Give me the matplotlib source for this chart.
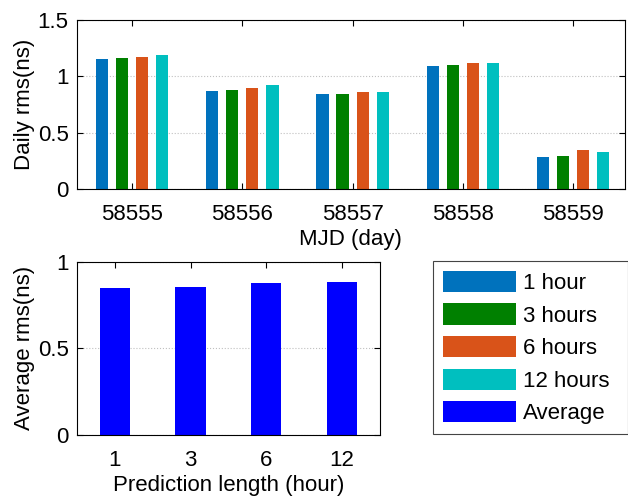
import matplotlib.pyplot as plt
from matplotlib.patches import Patch
import numpy as np

plt.rcParams['font.family'] = ['Liberation Sans', 'DejaVu Sans']

## donnees

days = ['58555', '58556', '58557', '58558', '58559']
rms_1h = [1.157, 0.873, 0.841, 1.095, 0.286]
rms_3h = [1.159, 0.876, 0.843, 1.097, 0.295]
rms_6h = [1.168, 0.897, 0.858, 1.115, 0.345]
rms_12h = [1.186, 0.918, 0.858, 1.118, 0.330]

lengths = ['1', '3', '6', '12']
avg_rms = [0.850, 0.854, 0.875, 0.881]

labels = ['1 hour', '3 hours', '6 hours', '12 hours', 'Average']
colors = ['#0072BD', '#008000', '#D95319', '#00BFBF', '#0000FF']

fs = 16

def style(ax):
	ax.tick_params(direction='in', top=True, right=True, labelsize=fs, length=4)
	ax.tick_params(axis='x', pad=11)
	ax.tick_params(axis='y', pad=6)
	ax.grid(axis='y', linestyle=':', color='#c0c0c0', linewidth=0.8)
	ax.set_axisbelow(True)
	for s in ax.spines.values():
		s.set_linewidth(0.8)

fig = plt.figure(figsize=(6.28, 4.96), dpi=100)

## graphe du haut

ax1 = fig.add_axes([0.1226, 0.619, 0.8724, 0.341])
x = np.arange(1, len(days) + 1)
series = [rms_1h, rms_3h, rms_6h, rms_12h]
offs = [-0.273, -0.091, 0.091, 0.273]
for k in range(4):
	ax1.bar(x + offs[k], series[k], width=0.11, color=colors[k])
ax1.set_xlim(0.5, 5.47)
ax1.set_ylim(0, 1.5)
ax1.set_xticks(x)
ax1.set_xticklabels(days)
ax1.set_yticks([0, 0.5, 1, 1.5])
ax1.set_yticklabels(['0', '0.5', '1', '1.5'])
ax1.set_xlabel('MJD (day)', fontsize=fs, labelpad=3)
ax1.set_ylabel('Daily rms(ns)', fontsize=fs, labelpad=2)
style(ax1)

## graphe du bas

ax2 = fig.add_axes([0.1226, 0.123, 0.4824, 0.3494])
x2 = np.arange(1, len(lengths) + 1)
ax2.bar(x2, avg_rms, width=0.4, color=colors[4])
ax2.set_xlim(0.5, 4.5)
ax2.set_ylim(0, 1)
ax2.set_xticks(x2)
ax2.set_xticklabels(lengths)
ax2.set_yticks([0, 0.5, 1])
ax2.set_yticklabels(['0', '0.5', '1'])
ax2.set_xlabel('Prediction length (hour)', fontsize=fs, labelpad=3)
ax2.set_ylabel('Average rms(ns)', fontsize=fs, labelpad=2)
style(ax2)

## legende

handles = [Patch(facecolor=c, edgecolor='none') for c in colors]
leg = fig.legend(handles, labels, loc='upper left', bbox_to_anchor=(0.689, 0.474),
	fontsize=fs, handlelength=3.3, handleheight=1.1, labelspacing=0.42,
	handletextpad=0.32, borderpad=0.45, borderaxespad=0, fancybox=False,
	framealpha=1, edgecolor='#444444', mode='expand')
leg.set_bbox_to_anchor((0.689, 0.0, 0.311, 0.474), transform=fig.transFigure)
leg.get_frame().set_linewidth(0.8)

fig.savefig('out.png', dpi=100)
